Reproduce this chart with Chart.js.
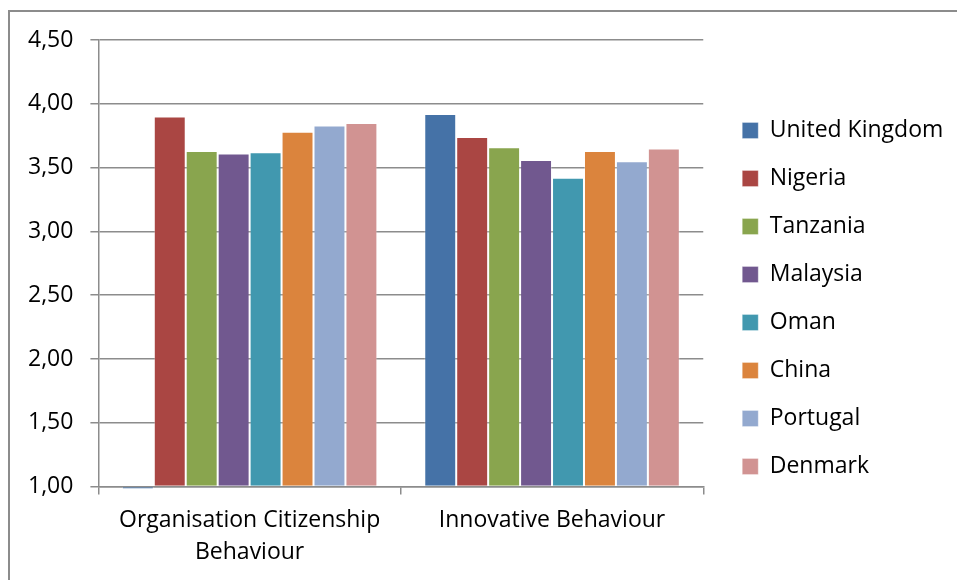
<!DOCTYPE html>
<html>
<head>
<meta charset="utf-8">
<script src="https://cdn.jsdelivr.net/npm/chart.js@4.4.1/dist/chart.umd.min.js"></script>
<style>
    html, body { margin: 0; padding: 0; background: #fff; overflow: hidden; }
    #frame {
        position: absolute; left: 8px; top: 10px; width: 1100px; height: 700px;
        border-left: 2px solid #8c8c8c; border-top: 2px solid #8c8c8c;
    }
    #chart { position: absolute; left: 0; top: 0; }
</style>
</head>
<body>
<div id="frame"></div>
<canvas id="chart" width="957" height="580"></canvas>
<script>
// ===== DATA =====
const categories = [['Organisation Citizenship', 'Behaviour'], 'Innovative Behaviour'];
const countries = ['United Kingdom', 'Nigeria', 'Tanzania', 'Malaysia', 'Oman', 'China', 'Portugal', 'Denmark'];
const colors = ['#4572A7', '#AA4643', '#89A54E', '#71588F', '#4198AF', '#DB843D', '#93A9CF', '#D19392'];

const ukScores = [0.98, 3.92];
const nigeriaScores = [3.90, 3.74];
const tanzaniaScores = [3.63, 3.66];
const malaysiaScores = [3.61, 3.56];
const omanScores = [3.62, 3.42];
const chinaScores = [3.78, 3.63];
const portugalScores = [3.83, 3.55];
const denmarkScores = [3.85, 3.65];

const yTicks = [1.0, 1.5, 2.0, 2.5, 3.0, 3.5, 4.0, 4.5];

const seriesValues = [ukScores, nigeriaScores, tanzaniaScores, malaysiaScores,
    omanScores, chinaScores, portugalScores, denmarkScores];

const GRID = '#8c8c8c';
const FONT = "'Open Sans', 'Noto Sans', sans-serif";

// legend sits a bit further right / up than Chart.js places it
const legendNudge = {
    id: 'legendNudge',
    afterLayout(chart) {
        const lg = chart.legend;
        if (!lg) return;
        lg.left += 14;
        lg.right += 14;
        lg.top -= 11;
        lg.bottom -= 11;
    },
};

// ===== CHART =====
const ctx = document.getElementById('chart').getContext('2d');
new Chart(ctx, {
    type: 'bar',
    data: {
        labels: categories,
        datasets: countries.map((name, i) => ({
            label: name,
            data: seriesValues[i],
            base: 1,
            backgroundColor: colors[i],
            borderColor: 'rgba(255, 255, 255, 0.3)',
            borderWidth: 1,
            categoryPercentage: 0.845,
            barPercentage: 1.0,
            clip: false,
        })),
    },
    options: {
        responsive: false,
        devicePixelRatio: 1,
        animation: false,
        layout: { padding: { left: 11, top: 40, right: 23, bottom: 1 } },
        plugins: {
            tooltip: { enabled: false },
            legend: {
                position: 'right',
                labels: {
                    boxWidth: 16,
                    boxHeight: 16,
                    padding: 25,
                    color: '#000',
                    font: { family: FONT, size: 23 },
                },
            },
        },
        scales: {
            x: {
                grid: {
                    offset: true,
                    drawOnChartArea: false,
                    drawTicks: true,
                    tickLength: 8,
                    color: GRID,
                    lineWidth: 1.5,
                },
                border: { display: true, color: GRID, width: 1.5 },
                ticks: {
                    color: '#000',
                    padding: 10,
                    maxRotation: 0,
                    autoSkip: false,
                    font: { family: FONT, size: 23, lineHeight: 1.4 },
                },
            },
            y: {
                min: 1,
                max: 4.5,
                afterBuildTicks: (axis) => {
                    axis.ticks = yTicks.map((v) => ({ value: v }));
                },
                grid: {
                    color: GRID,
                    lineWidth: 1.5,
                    drawTicks: true,
                    tickLength: 8,
                },
                border: { display: true, color: GRID, width: 1.5 },
                ticks: {
                    color: '#000',
                    padding: 17,
                    font: { family: FONT, size: 23 },
                    callback: (v) => Number(v).toFixed(2).replace('.', ','),
                },
            },
        },
    },
    plugins: [legendNudge],
});
</script>
</body>
</html>
